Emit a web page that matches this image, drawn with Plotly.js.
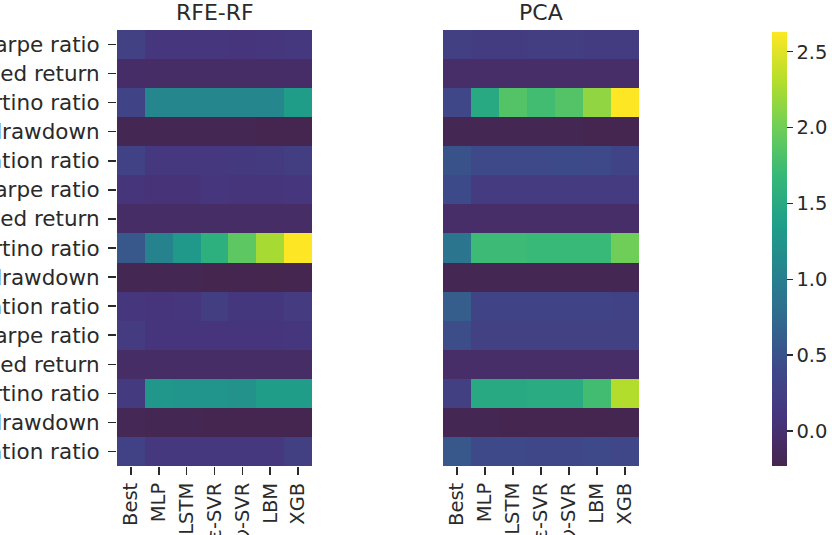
<!DOCTYPE html>
<html>
<head>
<meta charset="utf-8">
<script src="https://cdn.plot.ly/plotly-3.0.1.min.js"></script>
<style>html,body{margin:0;padding:0;background:#fff;}#chart{width:832px;height:535px;}</style>
</head>
<body>
<div id="chart"></div>
<script>
// Column (model) labels and row (metric) labels
const models = ["Best", "MLP", "LSTM", "ε-SVR", "ν-SVR", "LBM", "XGB"];
const metrics = [
  "Sharpe ratio", "Annualized return", "Sortino ratio", "Max drawdown", "Information ratio",
  "Sharpe ratio", "Annualized return", "Sortino ratio", "Max drawdown", "Information ratio",
  "Sharpe ratio", "Annualized return", "Sortino ratio", "Max drawdown", "Information ratio"
];
const panelTitles = ["RFE-RF", "PCA"];

// RFE-RF values (rows = metrics, cols = models)
const rfeRF = [
  [0.27, 0.10, 0.10, 0.10, 0.09, 0.11, 0.13],
  [-0.05, -0.06, -0.06, -0.06, -0.06, -0.06, -0.05],
  [0.33, 1.10, 1.10, 1.08, 1.10, 1.10, 1.35],
  [-0.19, -0.20, -0.20, -0.21, -0.21, -0.22, -0.22],
  [0.30, 0.14, 0.14, 0.14, 0.15, 0.17, 0.22],
  [0.08, 0.06, 0.06, 0.10, 0.08, 0.08, 0.10],
  [-0.06, -0.06, -0.06, -0.06, -0.06, -0.06, -0.06],
  [0.55, 1.05, 1.30, 1.58, 1.90, 2.25, 2.63],
  [-0.21, -0.21, -0.21, -0.23, -0.22, -0.23, -0.22],
  [0.10, 0.09, 0.10, 0.22, 0.12, 0.12, 0.18],
  [0.18, 0.09, 0.09, 0.09, 0.09, 0.09, 0.11],
  [-0.06, -0.06, -0.06, -0.06, -0.06, -0.06, -0.06],
  [0.17, 1.27, 1.25, 1.26, 1.22, 1.35, 1.35],
  [-0.18, -0.21, -0.21, -0.22, -0.22, -0.22, -0.22],
  [0.30, 0.13, 0.13, 0.13, 0.13, 0.13, 0.25]
];

// PCA values
const pca = [
  [0.25, 0.20, 0.20, 0.21, 0.21, 0.20, 0.20],
  [-0.04, -0.04, -0.04, -0.04, -0.04, -0.04, -0.04],
  [0.38, 1.50, 1.85, 1.75, 1.85, 2.15, 2.63],
  [-0.20, -0.20, -0.20, -0.21, -0.21, -0.22, -0.22],
  [0.50, 0.40, 0.40, 0.40, 0.42, 0.40, 0.33],
  [0.42, 0.18, 0.18, 0.18, 0.18, 0.18, 0.18],
  [-0.04, -0.04, -0.04, -0.04, -0.04, -0.04, -0.04],
  [0.88, 1.72, 1.72, 1.70, 1.70, 1.70, 2.00],
  [-0.20, -0.20, -0.21, -0.21, -0.21, -0.21, -0.21],
  [0.62, 0.33, 0.33, 0.31, 0.31, 0.31, 0.30],
  [0.45, 0.28, 0.28, 0.28, 0.28, 0.28, 0.28],
  [-0.04, -0.04, -0.04, -0.04, -0.04, -0.04, -0.04],
  [0.25, 1.50, 1.50, 1.52, 1.52, 1.75, 2.30],
  [-0.20, -0.21, -0.22, -0.22, -0.22, -0.22, -0.22],
  [0.55, 0.40, 0.40, 0.38, 0.38, 0.40, 0.38]
];

const colorbarTicks = [0, 0.5, 1.0, 1.5, 2.0, 2.5];

const allVals = rfeRF.flat().concat(pca.flat());
const zMin = Math.min(...allVals);
const zMax = Math.max(...allVals);

const xIdx = models.map((_, i) => i);
const yIdx = metrics.map((_, i) => i);

// viridis-like scale, low end as it appears in the reference
const colorscale = [
  [0.000, "#44264f"],
  [0.040, "#462a5e"],
  [0.080, "#47306f"],
  [0.111, "#46357c"],
  [0.222, "#3e4989"],
  [0.333, "#31688e"],
  [0.444, "#26828e"],
  [0.556, "#1f9e89"],
  [0.667, "#35b779"],
  [0.778, "#6ece58"],
  [0.889, "#b5de2b"],
  [1.000, "#fde725"]
];

const txtColor = "#2a2a2a";
const font = {family: "DejaVu Sans", size: 19.5, color: txtColor};
const yFont = {family: "DejaVu Sans", size: 21.5, color: txtColor};

const traces = [
  {type: "heatmap", z: rfeRF, x: xIdx, y: yIdx, coloraxis: "coloraxis", xaxis: "x", yaxis: "y", xgap: 0, ygap: 0},
  {type: "heatmap", z: pca, x: xIdx, y: yIdx, coloraxis: "coloraxis", xaxis: "x2", yaxis: "y2", xgap: 0, ygap: 0}
];

const W = 832, H = 535;
const yDom = [1 - 466 / H, 1 - 30 / H];
const xDom1 = [117 / W, 312 / W];
const xDom2 = [443 / W, 639 / W];

const xAxisBase = {
  tickmode: "array", tickvals: xIdx, ticktext: models, tickangle: -90,
  ticks: "outside", ticklen: 8, tickwidth: 1.5, tickcolor: txtColor,
  ticklabelstandoff: 0,
  showgrid: false, zeroline: false, showline: false, automargin: false,
  tickfont: font, range: [-0.5, 6.5], fixedrange: true
};

const layout = {
  width: W, height: H,
  margin: {l: 0, r: 0, t: 0, b: 0},
  paper_bgcolor: "#ffffff", plot_bgcolor: "#ffffff",
  font: font,
  showlegend: false,
  xaxis: Object.assign({}, xAxisBase, {domain: xDom1, anchor: "y"}),
  xaxis2: Object.assign({}, xAxisBase, {domain: xDom2, anchor: "y2"}),
  yaxis: {
    domain: yDom, anchor: "x", tickmode: "array", tickvals: yIdx, ticktext: metrics,
    ticks: "outside", ticklen: 8, tickwidth: 1.5, tickcolor: txtColor,
    ticklabelstandoff: 4,
    range: [14.5, -0.5], showgrid: false, zeroline: false, showline: false,
    automargin: false, tickfont: yFont
  },
  yaxis2: {
    domain: yDom, anchor: "x2", range: [14.5, -0.5], showticklabels: false, ticks: "",
    showgrid: false, zeroline: false, showline: false, automargin: false
  },
  coloraxis: {
    colorscale: colorscale, cmin: zMin, cmax: zMax,
    colorbar: {
      x: 772 / W, xanchor: "left", xpad: 0, ypad: 0,
      y: 1 - 466 / H, yanchor: "bottom", len: 434 / H, lenmode: "fraction",
      thickness: 15, thicknessmode: "pixels", outlinewidth: 0,
      tickmode: "array", tickvals: colorbarTicks, ticktext: colorbarTicks.map(v => v.toFixed(1)),
      ticks: "outside", ticklen: 6, tickwidth: 1.5, tickcolor: txtColor,
      tickfont: font
    }
  },
  annotations: [
    {text: panelTitles[0], x: (xDom1[0] + xDom1[1]) / 2, y: 1 - 12 / H, xref: "paper", yref: "paper",
     xanchor: "center", yanchor: "middle", showarrow: false, font: {family: "DejaVu Sans", size: 22, color: txtColor}},
    {text: panelTitles[1], x: (xDom2[0] + xDom2[1]) / 2, y: 1 - 12 / H, xref: "paper", yref: "paper",
     xanchor: "center", yanchor: "middle", showarrow: false, font: {family: "DejaVu Sans", size: 22, color: txtColor}}
  ]
};

Plotly.newPlot("chart", traces, layout, {staticPlot: true, displayModeBar: false});
</script>
</body>
</html>
